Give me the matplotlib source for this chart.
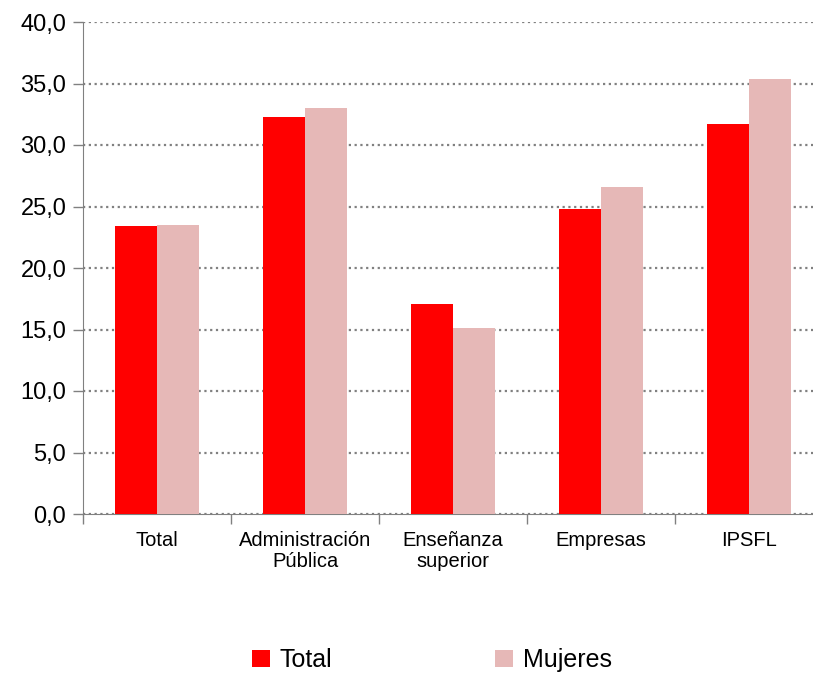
import numpy as np
import matplotlib.pyplot as plt

# datos
categorias = ['Total', 'Administración\nPública', 'Enseñanza\nsuperior', 'Empresas', 'IPSFL']
total = [23.4, 32.3, 17.1, 24.8, 31.7]
mujeres = [23.5, 33.0, 15.1, 26.6, 35.4]
yticks = [0, 5, 10, 15, 20, 25, 30, 35, 40]

plt.rcParams['font.family'] = ['Liberation Sans', 'DejaVu Sans']

fig = plt.figure(figsize=(8.13, 6.73), dpi=100)
# el area de trazado sigue un poco mas alla del borde derecho
ax = fig.add_axes([83 / 813, 1 - 514 / 673, 740 / 813, 492 / 673])

x = np.arange(len(categorias))
w = 0.287
ax.bar(x - w / 2, total, width=w, color='#ff0000', label='Total', zorder=3)
ax.bar(x + w / 2, mujeres, width=w, color='#e6b8b7', label='Mujeres', zorder=3)

ax.set_xlim(-0.5, len(categorias) - 0.5)
ax.set_ylim(0, 40)
ax.set_yticks(yticks)
ax.set_yticklabels([f'{v:.1f}'.replace('.', ',') for v in yticks], fontsize=17)

# marcas del eje x en los limites de categoria, etiquetas centradas
ax.set_xticks(np.arange(len(categorias) + 1) - 0.5)
ax.set_xticklabels([])
ax.set_xticks(x, minor=True)
ax.set_xticklabels(categorias, minor=True, fontsize=14.5, linespacing=1.15)
ax.tick_params(axis='x', which='minor', length=0, pad=12)
ax.tick_params(axis='x', which='major', length=7, color='#808080', width=1)
ax.tick_params(axis='y', length=7, color='#808080', width=1, pad=5)

ax.yaxis.grid(True, linestyle=(0, (1, 1.6)), color='#808080', linewidth=1.6, zorder=0)
ax.spines['top'].set_visible(False)
ax.spines['right'].set_visible(False)
ax.spines['left'].set_color('#808080')
ax.spines['bottom'].set_color('#808080')

fig.legend(loc='center', bbox_to_anchor=(432 / 813, 1 - 660 / 673), ncol=2,
           frameon=False, fontsize=18, columnspacing=6.5, handlelength=0.7,
           handleheight=0.7, handletextpad=0.4)

fig.savefig('out.png', dpi=100)
